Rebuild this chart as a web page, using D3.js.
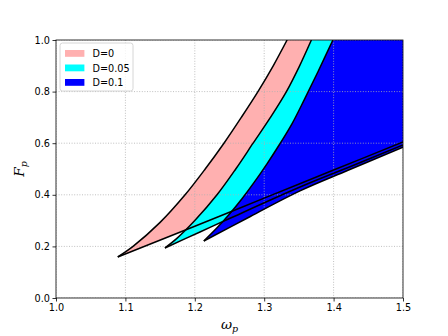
<!DOCTYPE html>
<html>
<head>
<meta charset="utf-8">
<script src="https://cdn.jsdelivr.net/npm/d3@7"></script>
<style>
  body { margin: 0; background: #fff; }
  svg text { font-family: "DejaVu Sans", sans-serif; }
  .grid line { stroke: #b0b0b0; stroke-width: 0.8; stroke-dasharray: 1,1.6; }
</style>
</head>
<body>
<svg id="chart" width="448" height="336"></svg>
<script>
// axis ticks
var omegaTicks = [1.0, 1.1, 1.2, 1.3, 1.4, 1.5];
var fTicks = [0.0, 0.2, 0.4, 0.6, 0.8, 1.0];

// series names and colours
var labels = ["D=0", "D=0.05", "D=0.1"];
var fills = ["#ffb0b0", "#00ffff", "#0000ff"];

// upper boundary (left edge) of each region
var upperW0  = [1.089, 1.111, 1.15, 1.186, 1.215, 1.242, 1.267, 1.291, 1.313, 1.333];
var upperF0  = [0.159, 0.200, 0.293, 0.400, 0.500, 0.600, 0.700, 0.800, 0.900, 1.0];
var upperW05 = [1.157, 1.175, 1.200, 1.232, 1.259, 1.284, 1.309, 1.332, 1.351, 1.368];
var upperF05 = [0.194, 0.233, 0.300, 0.400, 0.500, 0.600, 0.700, 0.800, 0.900, 1.0];
var upperW1  = [1.213, 1.232, 1.250, 1.268, 1.286, 1.304, 1.322, 1.340, 1.358, 1.378, 1.399];
var upperF1  = [0.221, 0.272, 0.326, 0.385, 0.450, 0.520, 0.595, 0.675, 0.770, 0.880, 1.0];

// lower boundary (right edge) of each region
var lowerW0  = [1.089, 1.2, 1.3, 1.4, 1.5];
var lowerF0  = [0.159, 0.278, 0.387, 0.496, 0.605];
var lowerW05 = [1.157, 1.2075, 1.25, 1.3516, 1.42, 1.5];
var lowerF05 = [0.194, 0.256, 0.308, 0.430, 0.505, 0.593];
var lowerW1  = [1.213, 1.28, 1.3516, 1.42, 1.5];
var lowerF1  = [0.221, 0.316, 0.415, 0.494, 0.585];

function zip(ws, fs) { return ws.map(function(w, i) { return [w, fs[i]]; }); }

var regions = [
  { upper: zip(upperW0, upperF0),   lower: zip(lowerW0, lowerF0) },
  { upper: zip(upperW05, upperF05), lower: zip(lowerW05, lowerF05) },
  { upper: zip(upperW1, upperF1),   lower: zip(lowerW1, lowerF1) }
];

var margin = {left: 56, top: 40, right: 45, bottom: 38};
var width = 448 - margin.left - margin.right;   // 347
var height = 336 - margin.top - margin.bottom;  // 258

var x = d3.scaleLinear().domain([1.0, 1.5]).range([0, width]);
var y = d3.scaleLinear().domain([0, 1]).range([height, 0]);

var svg = d3.select("#chart");
var g = svg.append("g").attr("transform", "translate(" + margin.left + "," + margin.top + ")");

g.append("clipPath").attr("id", "clip")
  .append("rect").attr("width", width).attr("height", height);

var plot = g.append("g").attr("clip-path", "url(#clip)");

var line = d3.line()
  .curve(d3.curveCatmullRom.alpha(0.5))
  .x(function(d) { return x(d[0]); })
  .y(function(d) { return y(d[1]); });

// fills first: upper edge, across the top-right corner, lower edge back
regions.forEach(function(r, i) {
  var back = line(r.lower.slice().reverse()).replace(/^M/, "L");
  var d = line(r.upper) + "L" + x(1.5) + "," + y(1.0) + back + "Z";
  plot.append("path")
    .attr("d", d)
    .attr("fill", fills[i])
    .attr("stroke", "none");
});

// grid above the fills
var grid = plot.append("g").attr("class", "grid");
grid.selectAll(".gx").data(omegaTicks).enter().append("line")
  .attr("x1", function(d) { return x(d); }).attr("x2", function(d) { return x(d); })
  .attr("y1", 0).attr("y2", height);
grid.selectAll(".gy").data(fTicks).enter().append("line")
  .attr("y1", function(d) { return y(d); }).attr("y2", function(d) { return y(d); })
  .attr("x1", 0).attr("x2", width);

// black boundary curves on top
regions.forEach(function(r) {
  [r.upper, r.lower].forEach(function(c) {
    plot.append("path")
      .attr("d", line(c))
      .attr("fill", "none")
      .attr("stroke", "#000")
      .attr("stroke-width", 1.5)
      .attr("stroke-linejoin", "round");
  });
});

// axes
var xAxis = d3.axisBottom(x).tickValues(omegaTicks).tickFormat(d3.format(".1f")).tickSize(3.5).tickPadding(2.5);
var yAxis = d3.axisLeft(y).tickValues(fTicks).tickFormat(d3.format(".1f")).tickSize(3.5).tickPadding(2.5);

var gx = g.append("g").attr("transform", "translate(0," + height + ")").call(xAxis);
var gy = g.append("g").call(yAxis);
[gx, gy].forEach(function(a) {
  a.select(".domain").remove();
  a.selectAll("line").attr("stroke", "#000").attr("stroke-width", 0.8);
  a.selectAll("text").attr("font-size", 9.7).attr("fill", "#000")
    .style("font-family", "DejaVu Sans, sans-serif");
});

// spines
g.append("rect").attr("width", width).attr("height", height)
  .attr("fill", "none").attr("stroke", "#000").attr("stroke-width", 0.8);

// axis labels
var xl = svg.append("text")
  .attr("x", margin.left + width / 2).attr("y", 329)
  .attr("text-anchor", "middle")
  .style("font-family", "DejaVu Serif, serif").style("font-style", "italic")
  .attr("font-size", 13.6);
xl.append("tspan").text("ω");
xl.append("tspan").attr("font-size", 9.5).attr("dy", 3).text("p");

var yl = svg.append("text")
  .attr("transform", "translate(24," + (margin.top + height / 2) + ") rotate(-90)")
  .attr("text-anchor", "middle")
  .style("font-family", "DejaVu Serif, serif").style("font-style", "italic")
  .attr("font-size", 13.6);
yl.append("tspan").text("F");
yl.append("tspan").attr("font-size", 9.5).attr("dy", 3).text("p");

// legend
var lg = g.append("g").attr("transform", "translate(4,3)");
lg.append("rect")
  .attr("width", 73).attr("height", 48).attr("rx", 2.5)
  .attr("fill", "#fff").attr("fill-opacity", 0.8)
  .attr("stroke", "#cccccc").attr("stroke-width", 0.8);
labels.forEach(function(lab, i) {
  var row = lg.append("g").attr("transform", "translate(0," + (7 + i * 14.5) + ")");
  row.append("rect").attr("x", 5).attr("y", 0).attr("width", 19.4).attr("height", 6.8)
    .attr("fill", fills[i]);
  row.append("text").attr("x", 32.5).attr("y", 7)
    .attr("font-size", 9.7).attr("fill", "#000").text(lab);
});
</script>
</body>
</html>
